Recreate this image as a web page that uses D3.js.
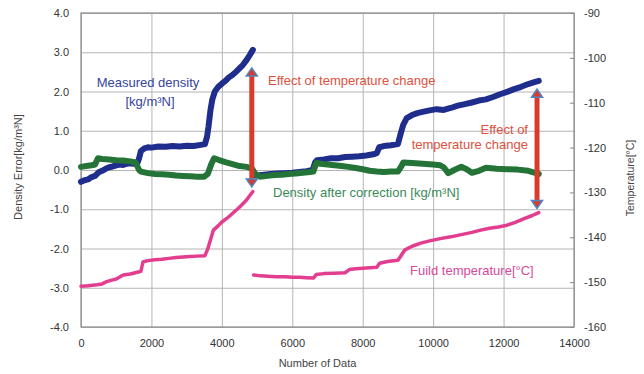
<!DOCTYPE html>
<html>
<head>
<meta charset="utf-8">
<script src="https://cdn.jsdelivr.net/npm/d3@7"></script>
<style>
  body { margin: 0; background: #fff; }
  svg { font-family: "Liberation Sans", Arial, sans-serif; }
  .axis text { font-size: 11px; fill: #333; }
  .grid line { stroke: #b4b4b4; stroke-width: 1; }
</style>
</head>
<body>
<div id="chart"></div>
<script>
// data: [number of data, value]
const measuredA = [[0,-0.30],[100,-0.26],[200,-0.24],[300,-0.18],[400,-0.15],[500,-0.06],[600,-0.02],[700,0.03],[800,0.07],[900,0.09],[1000,0.12],[1100,0.14],[1200,0.13],[1300,0.16],[1400,0.17],[1500,0.16],[1600,0.17],[1650,0.30],[1700,0.48],[1800,0.55],[1900,0.58],[2000,0.57],[2200,0.60],[2400,0.59],[2600,0.61],[2800,0.60],[3000,0.62],[3200,0.61],[3400,0.64],[3520,0.66],[3580,0.85],[3620,1.10],[3680,1.55],[3730,1.80],[3800,2.00],[3900,2.12],[4000,2.20],[4100,2.27],[4200,2.36],[4300,2.42],[4400,2.50],[4500,2.59],[4600,2.68],[4700,2.80],[4800,2.94],[4880,3.06]];
const measuredB = [[4900,-0.12],[5000,-0.14],[5200,-0.12],[5400,-0.10],[5600,-0.09],[5800,-0.08],[6000,-0.07],[6200,-0.05],[6400,-0.03],[6580,0.00],[6650,0.20],[6700,0.25],[6900,0.27],[7100,0.30],[7300,0.30],[7500,0.33],[7700,0.34],[7900,0.35],[8100,0.37],[8300,0.40],[8400,0.43],[8470,0.58],[8600,0.61],[8800,0.63],[9000,0.66],[9070,0.90],[9150,1.15],[9250,1.32],[9400,1.40],[9550,1.45],[9700,1.48],[9900,1.52],[10100,1.55],[10300,1.53],[10500,1.58],[10700,1.64],[10900,1.68],[11100,1.72],[11300,1.77],[11500,1.80],[11700,1.86],[11900,1.93],[12100,1.99],[12300,2.06],[12500,2.12],[12700,2.19],[12850,2.23],[13000,2.27]];
const corrected = [[0,0.08],[150,0.10],[300,0.12],[400,0.14],[480,0.30],[600,0.28],[800,0.27],[1000,0.25],[1200,0.24],[1400,0.22],[1550,0.19],[1650,0.00],[1700,-0.04],[1900,-0.08],[2100,-0.10],[2300,-0.11],[2500,-0.12],[2700,-0.14],[2900,-0.15],[3100,-0.16],[3300,-0.17],[3500,-0.17],[3600,-0.10],[3700,0.15],[3780,0.30],[3900,0.26],[4100,0.20],[4300,0.15],[4500,0.10],[4700,0.08],[4850,0.04],[4950,-0.10],[5080,-0.17],[5300,-0.15],[5500,-0.13],[5700,-0.12],[5900,-0.10],[6100,-0.09],[6300,-0.07],[6500,-0.05],[6600,-0.04],[6680,0.18],[6800,0.16],[7000,0.14],[7200,0.12],[7400,0.10],[7600,0.08],[7800,0.05],[8000,0.02],[8200,-0.02],[8400,-0.04],[8600,-0.05],[8800,-0.04],[9000,-0.04],[9100,0.10],[9150,0.19],[9400,0.18],[9700,0.16],[10000,0.14],[10200,0.12],[10300,0.07],[10430,-0.08],[10600,0.00],[10800,0.08],[10950,0.02],[11100,-0.07],[11300,-0.02],[11500,0.06],[11800,0.03],[12100,0.02],[12400,0.01],[12700,-0.02],[12850,-0.06],[13000,-0.10]];
const tempA = [[0,-150.9],[200,-150.8],[450,-150.6],[600,-150.4],[730,-149.9],[900,-149.5],[1000,-149.3],[1200,-148.4],[1400,-148.2],[1600,-147.8],[1700,-147.6],[1760,-145.5],[1900,-145.2],[2100,-145.0],[2300,-144.9],[2500,-144.7],[2700,-144.5],[2900,-144.4],[3100,-144.3],[3300,-144.2],[3520,-144.1],[3600,-142.6],[3680,-140.5],[3760,-138.4],[3900,-137.4],[4000,-136.6],[4140,-135.8],[4300,-134.7],[4500,-133.3],[4700,-131.7],[4880,-129.8]];
const tempB = [[4900,-148.4],[5100,-148.6],[5300,-148.7],[5550,-148.8],[5800,-148.8],[6000,-148.9],[6200,-148.9],[6400,-149.0],[6600,-149.1],[6680,-148.3],[6900,-148.1],[7200,-148.0],[7500,-147.9],[7620,-147.2],[7800,-147.0],[8000,-146.9],[8200,-146.8],[8400,-146.7],[8480,-145.8],[8700,-145.4],[9000,-145.1],[9080,-144.2],[9200,-142.8],[9400,-142.0],[9650,-141.3],[9900,-140.8],[10200,-140.3],[10500,-139.9],[10800,-139.4],[11100,-138.9],[11350,-138.4],[11600,-138.0],[11850,-137.7],[12100,-137.3],[12350,-136.6],[12600,-135.8],[12800,-135.2],[13000,-134.5]];
// arrows: position and ends on the left axis
const arrows = [[4850, 2.60, -0.43], [12950, 2.06, -0.98]];

const xTicks = [0, 2000, 4000, 6000, 8000, 10000, 12000, 14000];
const yTicks = [-4, -3, -2, -1, 0, 1, 2, 3, 4];
const tTicks = [-160, -150, -140, -130, -120, -110, -100, -90];

const W = 644, H = 374;
const m = { top: 13, right: 70, bottom: 47, left: 81 };
const pw = W - m.left - m.right, ph = H - m.top - m.bottom;

const svg = d3.select('#chart').append('svg').attr('width', W).attr('height', H);
const g = svg.append('g').attr('transform', `translate(${m.left},${m.top})`);

const x = d3.scaleLinear().domain([0, 14000]).range([0, pw]);
const y = d3.scaleLinear().domain([-4, 4]).range([ph, 0]);
const yT = d3.scaleLinear().domain([-160, -90]).range([ph, 0]);

// grid + axes
const gx = g.append('g').attr('class', 'axis grid').attr('transform', `translate(0,${ph})`)
  .call(d3.axisBottom(x).tickValues(xTicks).tickSize(-ph).tickPadding(12).tickFormat(d => String(d)));
const gy = g.append('g').attr('class', 'axis grid')
  .call(d3.axisLeft(y).tickValues(yTicks).tickSize(-pw).tickPadding(12).tickFormat(d => d.toFixed(1)));
const gt = g.append('g').attr('class', 'axis').attr('transform', `translate(${pw},0)`)
  .call(d3.axisRight(yT).tickValues(tTicks).tickSize(-4).tickPadding(10).tickFormat(d => String(d)));
[gx, gy, gt].forEach(a => a.select('.domain').remove());
gt.selectAll('line').attr('stroke', '#888');

g.append('rect').attr('width', pw).attr('height', ph)
  .attr('fill', 'none').attr('stroke', '#8a8a8a').attr('stroke-width', 1.2);

// axis titles
svg.append('text').attr('x', m.left + pw / 2 - 10).attr('y', 367)
  .attr('text-anchor', 'middle').attr('font-size', 11).attr('fill', '#444').text('Number of Data');
svg.append('text').attr('transform', 'translate(22,167) rotate(-90)')
  .attr('text-anchor', 'middle').attr('font-size', 11).attr('fill', '#444').text('Density Error[kg/m³N]');
svg.append('text').attr('transform', 'translate(634,178) rotate(-90)')
  .attr('text-anchor', 'middle').attr('font-size', 10.5).attr('fill', '#444').text('Temperature[°C]');

// series
const line = d3.line().x(d => x(d[0])).y(d => y(d[1]));
const lineT = d3.line().x(d => x(d[0])).y(d => yT(d[1]));

const plot = g.append('g').attr('fill', 'none').attr('stroke-linejoin', 'round').attr('stroke-linecap', 'round');
plot.selectAll('path.measured').data([measuredA, measuredB]).join('path')
  .attr('class', 'measured').attr('d', line).attr('stroke', '#1f2e8c').attr('stroke-width', 6);
plot.append('path').datum(corrected).attr('d', line).attr('stroke', '#257437').attr('stroke-width', 6);
plot.selectAll('path.temp').data([tempA, tempB]).join('path')
  .attr('class', 'temp').attr('d', lineT).attr('stroke', '#e23d8e').attr('stroke-width', 3.5);

// double arrows
const arr = g.append('g');
arrows.forEach(([d, top, bot]) => {
  const ax = x(d), y0 = y(top), y1 = y(bot);
  arr.append('line').attr('x1', ax).attr('x2', ax).attr('y1', y0 + 6).attr('y2', y1 - 6)
    .attr('stroke', '#d83a2c').attr('stroke-width', 5);
  arr.append('path').attr('d', `M${ax},${y0} L${ax - 5.5},${y0 + 8} L${ax + 5.5},${y0 + 8} Z`)
    .attr('fill', '#d83a2c').attr('stroke', '#4f86c0').attr('stroke-width', 1.5);
  arr.append('path').attr('d', `M${ax},${y1} L${ax - 5.5},${y1 - 8} L${ax + 5.5},${y1 - 8} Z`)
    .attr('fill', '#d83a2c').attr('stroke', '#4f86c0').attr('stroke-width', 1.5);
});

// annotations
const note = (tx, ty, txt, col, anchor) => svg.append('text').attr('x', tx).attr('y', ty)
  .attr('font-size', 13).attr('fill', col).attr('text-anchor', anchor || 'start').text(txt);
note(148, 87, 'Measured density', '#34449a', 'middle');
note(150, 106, '[kg/m³N]', '#34449a', 'middle');
note(268, 85, 'Effect of temperature change', '#e0503e');
note(528, 134, 'Effect of', '#e0503e', 'end');
note(528, 149, 'temperature change', '#e0503e', 'end');
note(273, 197, 'Density after correction [kg/m³N]', '#3a8a58');
note(410, 275, 'Fuild temperature[°C]', '#d9489a');
</script>
</body>
</html>
